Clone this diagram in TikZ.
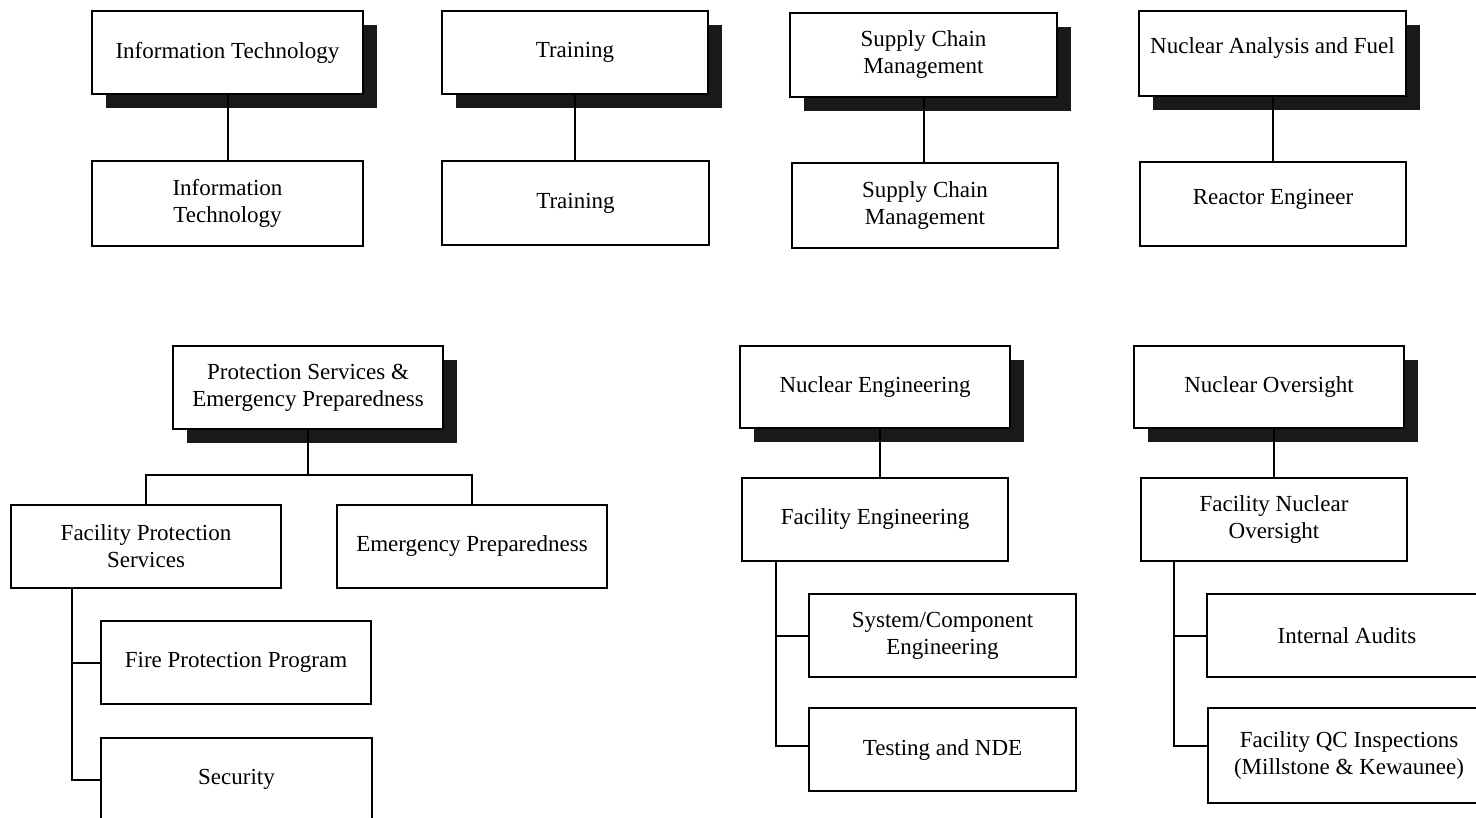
\documentclass[tikz,border=0pt]{standalone}
\usepackage{fontspec}
\setmainfont{Liberation Serif}
\usetikzlibrary{shadows,calc}
\newcommand\raisetxt[2]{\raisebox{#1}[\height][\depth]{#2}}
\begin{document}
\begin{tikzpicture}[x=1pt,y=-1pt,
  box/.style={draw=black, line width=2pt, fill=white, align=center, inner sep=0pt,
    font=\fontsize{23}{27}\selectfont},
  headbox/.style={box, drop shadow={shadow xshift=14pt, shadow yshift=-14pt, fill=black!90, opacity=1}},
  conn/.style={draw=black, line width=2pt}]
\useasboundingbox (0,0) rectangle (1476,818);
\clip (0,0) rectangle (1476,818);

% ---- top row ----
\node[headbox, minimum width=271pt, minimum height=83pt] (it1) at (227.5,52.5) {Information Technology};
\node[box, minimum width=271pt, minimum height=85pt] (it2) at (227.5,203.5) {Information\\Technology};
\node[headbox, minimum width=266pt, minimum height=83pt] (tr1) at (575,52.5) {Training};
\node[box, minimum width=267pt, minimum height=84pt] (tr2) at (575.5,203) {Training};
\node[headbox, minimum width=267pt, minimum height=84pt] (sc1) at (923.5,55) {Supply Chain\\Management};
\node[box, minimum width=266pt, minimum height=85pt] (sc2) at (925,205.5) {Supply Chain\\Management};
\node[headbox, minimum width=267pt, minimum height=85pt] (na1) at (1272.5,53.5) {\raisetxt{5pt}{Nuclear Analysis and Fuel}};
\node[box, minimum width=266pt, minimum height=84pt] (na2) at (1273,204) {\raisetxt{5pt}{Reactor Engineer}};

\draw[conn] (it1.south) -- (it1.south |- it2.north);
\draw[conn] (tr1.south) -- (tr1.south |- tr2.north);
\draw[conn] (sc1.south) -- (sc1.south |- sc2.north);
\draw[conn] (na1.south) -- (na1.south |- na2.north);

% ---- protection services ----
\node[headbox, minimum width=270pt, minimum height=83pt] (ps) at (308,387.5) {Protection Services \&\\Emergency Preparedness};
\node[box, minimum width=270pt, minimum height=83pt] (fps) at (146,546.5) {Facility Protection\\Services};
\node[box, minimum width=270pt, minimum height=83pt] (ep) at (472,546.5) {Emergency Preparedness};
\node[box, minimum width=270pt, minimum height=83pt] (fpp) at (236,662.5) {Fire Protection Program};
\node[box, minimum width=271pt, minimum height=83pt] (sec) at (236.5,779.5) {Security};

\coordinate (psj) at (305,475);
\draw[conn] (ps.south) -- (ps.south |- psj);
\draw[conn] (fps.north) |- (psj) -| (ep.north);
\draw[conn] ([xshift=62pt]fps.south west) |- (fpp.west);
\draw[conn] ([xshift=62pt]fps.south west) |- (sec.west);

% ---- nuclear engineering ----
\node[headbox, minimum width=270pt, minimum height=82pt] (ne) at (875,387) {Nuclear Engineering};
\node[box, minimum width=266pt, minimum height=83pt] (fe) at (875,519.5) {Facility Engineering};
\node[box, minimum width=267pt, minimum height=83pt] (sce) at (942.5,635.5) {System/Component\\Engineering};
\node[box, minimum width=267pt, minimum height=83pt] (tnde) at (942.5,749.5) {Testing and NDE};

\draw[conn] ([xshift=5pt]fe.north) -- ([xshift=5pt]fe.north |- ne.south);
\draw[conn] ([xshift=34.5pt]fe.south west) |- (sce.west);
\draw[conn] ([xshift=34.5pt]fe.south west) |- ([yshift=3.5pt]tnde.west);

% ---- nuclear oversight ----
\node[headbox, minimum width=270pt, minimum height=82pt] (no) at (1269,387) {Nuclear Oversight};
\node[box, minimum width=266pt, minimum height=83pt] (fno) at (1274,519.5) {Facility Nuclear\\Oversight};
\node[box, minimum width=280pt, minimum height=83pt] (ia) at (1347,635.5) {Internal Audits};
\node[box, minimum width=282pt, minimum height=95pt] (qc) at (1349,755.5) {Facility QC Inspections\\(Millstone \& Kewaunee)};

\draw[conn] (fno.north) -- (fno.north |- no.south);
\draw[conn] ([xshift=34pt]fno.south west) |- (ia.west);
\draw[conn] ([xshift=34pt]fno.south west) |- ([yshift=9.5pt]qc.west);
\end{tikzpicture}
\end{document}
